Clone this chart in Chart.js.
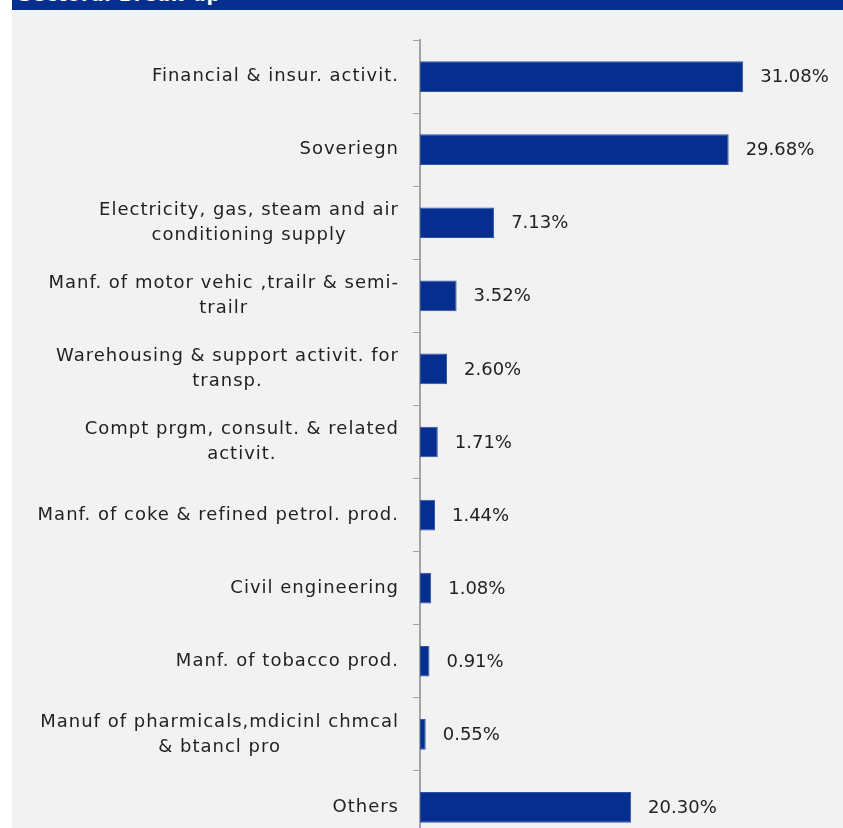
<!DOCTYPE html>
<html>
<head>
<meta charset="utf-8">
<script src="https://cdn.jsdelivr.net/npm/chart.js@4.4.1/dist/chart.umd.min.js"></script>
<style>
  html, body { margin: 0; padding: 0; background: #ffffff; overflow: hidden; }
  body { width: 843px; height: 828px; position: relative; }
  .panel { position: absolute; left: 12px; top: 0; width: 831px; height: 860px; background: #f2f2f2; }
  .header { position: absolute; left: 12px; top: 0; width: 831px; height: 10px; background: #052e8f; overflow: hidden; }
  .header span { position: absolute; left: 6px; top: -15px; color: #fff; font: bold 19px "DejaVu Sans", sans-serif; letter-spacing: 0.6px; line-height: 19px; }
  #sectors { position: absolute; left: 12px; top: 10px; }
</style>
</head>
<body>
<div class="panel"></div>
<div class="header"><span>Sectoral Break-up</span></div>
<canvas id="sectors" width="831" height="840"></canvas>

<script>
// sector names (split where they wrap) and share of the portfolio in %
const sectors = [
    ['Financial & insur. activit.'],
    ['Soveriegn'],
    ['Electricity, gas, steam and air', 'conditioning supply'],
    ['Manf. of motor vehic ,trailr & semi-', 'trailr'],
    ['Warehousing & support activit. for', 'transp.'],
    ['Compt prgm, consult. & related', 'activit.'],
    ['Manf. of coke & refined petrol. prod.'],
    ['Civil engineering'],
    ['Manf. of tobacco prod.'],
    ['Manuf of pharmicals,mdicinl chmcal', '& btancl pro'],
    ['Others']
];
const shares = [31.08, 29.68, 7.13, 3.52, 2.60, 1.71, 1.44, 1.08, 0.91, 0.55, 20.30];

const barBlue = '#052e8f';
const textColor = '#222222';
const axisGrey = '#a3a3a3';

// category names on the left, each wrapped block centred on its own width
const sideLabels = {
    id: 'sideLabels',
    afterDraw(chart) {
        const ctx = chart.ctx;
        const yScale = chart.scales.y;
        const area = chart.chartArea;
        ctx.save();
        ctx.font = '18px "DejaVu Sans", sans-serif';
        ctx.letterSpacing = '1px';
        ctx.fillStyle = textColor;
        ctx.textAlign = 'center';
        ctx.textBaseline = 'middle';
        sectors.forEach((lines, i) => {
            const cy = yScale.getPixelForValue(i);
            const w = Math.max(...lines.map(l => ctx.measureText(l).width));
            const cx = area.left - 21 - w / 2;
            lines.forEach((line, j) => {
                ctx.fillText(line, cx, cy + (j - (lines.length - 1) / 2) * 25);
            });
        });
        ctx.restore();
    },
    afterDatasetsDraw(chart) {
        // percentage next to the end of each bar
        const ctx = chart.ctx;
        const meta = chart.getDatasetMeta(0);
        ctx.save();
        ctx.font = '18px "DejaVu Sans", sans-serif';
        ctx.fillStyle = textColor;
        ctx.textAlign = 'left';
        ctx.textBaseline = 'middle';
        meta.data.forEach((bar, i) => {
            ctx.fillText(shares[i].toFixed(2) + '%', bar.x + 17, bar.y + 1);
        });
        ctx.restore();
    }
};

const ctx = document.getElementById('sectors');

const sectorChart = new Chart(ctx, {
    type: 'bar',
    data: {
        labels: sectors,
        datasets: [{
            data: shares,
            backgroundColor: barBlue,
            borderColor: '#2f52a6',
            borderWidth: 1,
            borderSkipped: false,
            barPercentage: 0.42,
            categoryPercentage: 1
        }]
    },
    options: {
        indexAxis: 'y',
        responsive: false,
        animation: false,
        layout: {
            padding: { top: 30, bottom: 6, right: 7, left: 0 }
        },
        scales: {
            x: {
                display: false,
                min: 0,
                max: 40
            },
            y: {
                afterFit(scale) { scale.width = 408; },
                grid: {
                    drawOnChartArea: false,
                    offset: true,
                    tickLength: 7,
                    color: axisGrey,
                    lineWidth: 1
                },
                border: { color: axisGrey, width: 2 },
                ticks: { display: false }
            }
        },
        plugins: {
            legend: { display: false },
            tooltip: { enabled: false }
        }
    },
    plugins: [sideLabels]
});
</script>
</body>
</html>
